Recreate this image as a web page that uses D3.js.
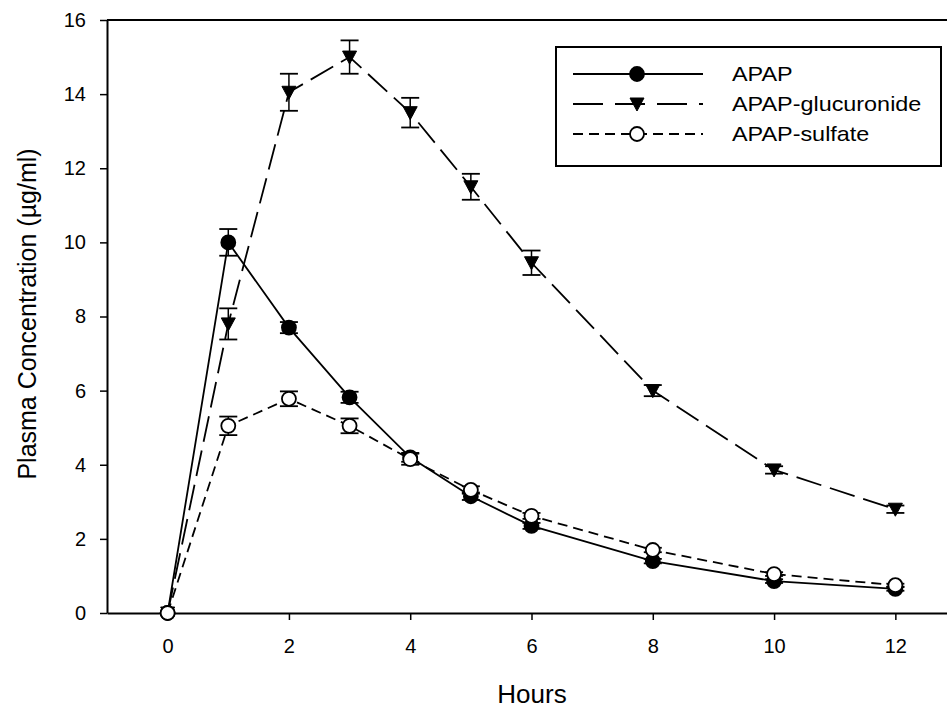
<!DOCTYPE html>
<html>
<head>
<meta charset="utf-8">
<script src="https://cdn.jsdelivr.net/npm/d3@7"></script>
<style>
  body { margin: 0; background: #fff; }
  svg { display: block; font-family: Arial, "Liberation Sans", sans-serif; }
</style>
</head>
<body>
<script>
// time points (hours)
var hours = [0, 1, 2, 3, 4, 5, 6, 8, 10, 12];

// mean plasma concentrations (µg/ml) and error bars
var apap = [0, 10.0, 7.7, 5.82, 4.2, 3.15, 2.35, 1.4, 0.86, 0.65];
var apapErr = [0, 0.36, 0.15, 0.15, 0.12, 0.1, 0.08, 0.06, 0.05, 0.05];
var gluc = [0, 7.8, 14.05, 15.0, 13.5, 11.5, 9.45, 6.0, 3.86, 2.8];
var glucErr = [0, 0.42, 0.5, 0.45, 0.4, 0.35, 0.33, 0.15, 0.1, 0.1];
var sulf = [0, 5.05, 5.78, 5.05, 4.15, 3.32, 2.62, 1.7, 1.05, 0.75];
var sulfErr = [0, 0.25, 0.2, 0.2, 0.15, 0.1, 0.08, 0.06, 0.05, 0.04];

var seriesNames = ["APAP", "APAP-glucuronide", "APAP-sulfate"];
var xTicks = [0, 2, 4, 6, 8, 10, 12];
var yTicks = [0, 2, 4, 6, 8, 10, 12, 14, 16];

var width = 947, height = 712;

var x = d3.scaleLinear().domain([-1, 13]).range([107, 956]);
var y = d3.scaleLinear().domain([0, 16]).range([613, 20]);

var svg = d3.select("body").append("svg")
    .attr("width", width)
    .attr("height", height);

// series setup
var series = [
    { name: seriesNames[0], values: apap, err: apapErr, dash: null, marker: "circle", fill: "#000" },
    { name: seriesNames[1], values: gluc, err: glucErr, dash: "26,9", marker: "triangle", fill: "#000" },
    { name: seriesNames[2], values: sulf, err: sulfErr, dash: "10,6", marker: "circle", fill: "#fff" }
];

// frame: top line
svg.append("line")
    .attr("x1", x(-1)).attr("x2", width)
    .attr("y1", y(16)).attr("y2", y(16))
    .attr("stroke", "#000").attr("stroke-width", 2);

// axes
var xAxis = svg.append("g")
    .attr("transform", "translate(0," + y(0) + ")")
    .call(d3.axisBottom(x).tickValues(xTicks).tickSize(7).tickPadding(19).tickSizeOuter(0));
var yAxis = svg.append("g")
    .attr("transform", "translate(" + x(-1) + ",0)")
    .call(d3.axisLeft(y).tickValues(yTicks).tickSize(7).tickPadding(14).tickSizeOuter(0));

[xAxis, yAxis].forEach(function (a) {
    a.select(".domain").attr("stroke-width", 2);
    a.selectAll(".tick line").attr("stroke-width", 1.5);
    a.selectAll("text").attr("font-size", 20).attr("font-family", "Arial, 'Liberation Sans', sans-serif").attr("fill", "#000");
});

// axis titles
svg.append("text")
    .attr("x", 532).attr("y", 703)
    .attr("text-anchor", "middle")
    .attr("font-size", 26)
    .text("Hours");

svg.append("text")
    .attr("transform", "translate(36," + 314 + ") rotate(-90)")
    .attr("text-anchor", "middle")
    .attr("font-size", 25)
    .text("Plasma Concentration (µg/ml)");

var line = d3.line()
    .x(function (d, i) { return x(hours[i]); })
    .y(function (d) { return y(d); });

var triangle = "M-7,-6L7,-6L0,7Z";

function drawMarker(g, s) {
    if (s.marker === "triangle") {
        g.append("path").attr("d", triangle).attr("fill", s.fill).attr("stroke", "#000").attr("stroke-width", 1);
    } else {
        g.append("circle").attr("r", 7).attr("fill", s.fill).attr("stroke", "#000").attr("stroke-width", 1.8);
    }
}

// lines
series.forEach(function (s) {
    svg.append("path")
        .datum(s.values)
        .attr("d", line)
        .attr("fill", "none")
        .attr("stroke", "#000")
        .attr("stroke-width", 1.8)
        .attr("stroke-dasharray", s.dash);
});

// error bars
series.forEach(function (s) {
    var g = svg.append("g");
    s.values.forEach(function (v, i) {
        if (!s.err[i]) return;
        var cx = x(hours[i]), top = y(v + s.err[i]), bot = y(v - s.err[i]);
        g.append("line").attr("x1", cx).attr("x2", cx).attr("y1", top).attr("y2", bot)
            .attr("stroke", "#000").attr("stroke-width", 1.5);
        [top, bot].forEach(function (yy) {
            g.append("line").attr("x1", cx - 9).attr("x2", cx + 9).attr("y1", yy).attr("y2", yy)
                .attr("stroke", "#000").attr("stroke-width", 1.8);
        });
    });
});

// markers
series.forEach(function (s) {
    s.values.forEach(function (v, i) {
        var g = svg.append("g").attr("transform", "translate(" + x(hours[i]) + "," + y(v) + ")");
        drawMarker(g, s);
    });
});

// legend
var legend = svg.append("g");
legend.append("rect")
    .attr("x", 556).attr("y", 47).attr("width", 385).attr("height", 119)
    .attr("fill", "#fff").attr("stroke", "#000").attr("stroke-width", 2);

var legendDash = [null, "30,12", "10,6"];
series.forEach(function (s, i) {
    var ly = 74 + i * 30;
    legend.append("line")
        .attr("x1", 573).attr("x2", 703).attr("y1", ly).attr("y2", ly)
        .attr("stroke", "#000").attr("stroke-width", 1.8)
        .attr("stroke-dasharray", legendDash[i]);
    var g = legend.append("g").attr("transform", "translate(637," + ly + ")");
    drawMarker(g, s);
    // text in the reference is slightly wide, stretch horizontally
    legend.append("text")
        .attr("transform", "translate(732," + (ly + 7) + ") scale(1.17,1)")
        .attr("font-size", 20)
        .text(s.name);
});
</script>
</body>
</html>
